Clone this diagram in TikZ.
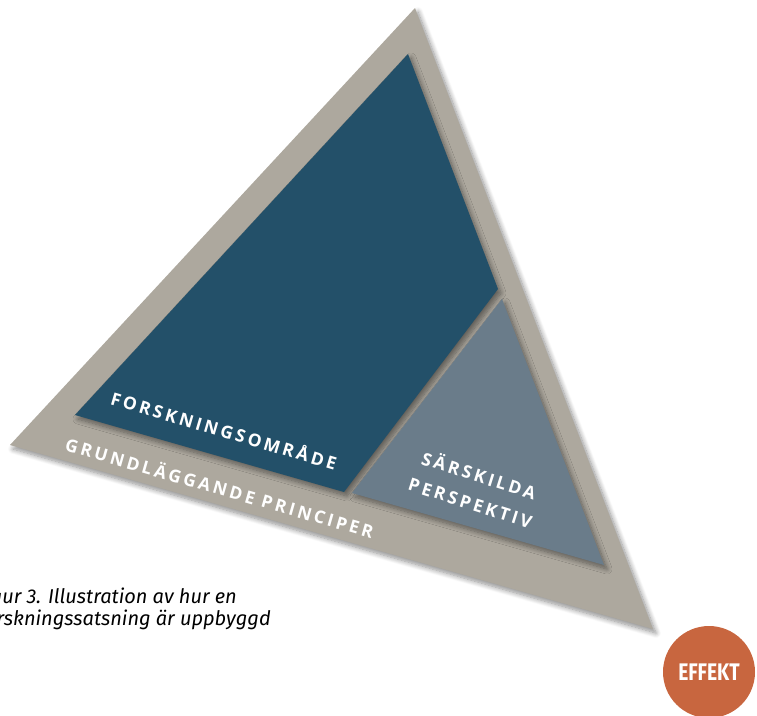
\documentclass[tikz,border=0pt]{standalone}
\usepackage{fontspec}
\setmainfont{Open Sans}
\newfontfamily\capfont{Fira Sans}
\newfontfamily\trackfont[LetterSpace=17]{Open Sans}
\newfontfamily\narrowfont[FakeStretch=0.8]{Fira Sans}
\usetikzlibrary{shadows.blur}

\definecolor{stonegray}{RGB}{173,168,158}
\definecolor{deepblue}{RGB}{35,80,105}
\definecolor{slatepart}{RGB}{106,124,138}
\definecolor{rustorange}{RGB}{200,102,63}

\begin{document}
\begin{tikzpicture}[x=1pt, y=-1pt,
  band/.style={font=\trackfont\bfseries\fontsize{17.5}{28.5}\selectfont, text=white, align=center, inner sep=0pt},
  caption/.style={anchor=base east, font=\capfont\itshape\fontsize{20}{22}\selectfont, inner sep=0pt},
  soft/.style={blur shadow={shadow xshift=3pt, shadow yshift=-4pt, shadow blur radius=5pt, shadow blur steps=10, shadow opacity=45}}]
  \useasboundingbox (0,0) rectangle (757,715);
  % Defining the triangle
  \coordinate (T) at (415,8);
  \coordinate (L) at (10,445);
  \coordinate (R) at (653,629);
  % Research area
  \coordinate (A) at (408,54);
  \coordinate (B) at (75,415);
  \coordinate (C) at (344,492);
  \coordinate (D) at (498,289);
  % Special perspectives
  \coordinate (E) at (502,299);
  \coordinate (F) at (352,493);
  \coordinate (G) at (604,565);

  \fill[stonegray, soft] (T) -- (L) -- (R) -- cycle;
  \fill[deepblue, soft] (A) -- (B) -- (C) -- (D) -- cycle;
  \fill[slatepart, soft] (E) -- (F) -- (G) -- cycle;

  % Labels
  \node[band, rotate=-16.5] (area) at (224,430) {FORSKNINGSOMRÅDE};
  \node[band, rotate=-16] (base) at (220,487) {GRUNDLÄGGANDE PRINCIPER};
  \node[band, rotate=-17.5] (persp) at (475,488) {SÄRSKILDA\\PERSPEKTIV};
  % Caption
  \node[caption] (capA) at (237,603) {Figur 3. Illustration av hur en};
  \node[caption] (capB) at (271,625) {forskningssatsning är uppbyggd};
  % Effect
  \node[circle, fill=rustorange, minimum size=92pt, inner sep=0pt, text=white,
        font=\narrowfont\bfseries\fontsize{24}{24}\selectfont] (effect) at (709,672) {EFFEKT};
\end{tikzpicture}
\end{document}
